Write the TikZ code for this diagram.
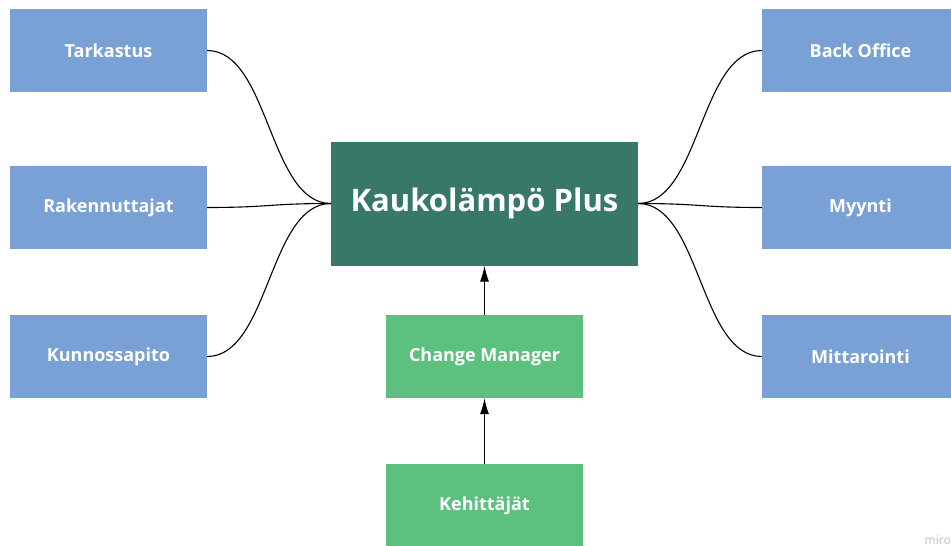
\documentclass[tikz,border=0pt]{standalone}
\usepackage{fontspec}
\setmainfont{Open Sans}
\usetikzlibrary{arrows.meta}
\definecolor{bluebox}{HTML}{7AA1D6}
\definecolor{darkgreen}{HTML}{387868}
\definecolor{lightgreen}{HTML}{5CC17E}
\definecolor{wm}{HTML}{C0C0C0}
\tikzset{
  box/.style={minimum width=197pt, minimum height=83pt, inner sep=0pt, text=white, font=\fontsize{18pt}{21pt}\selectfont\bfseries},
  bluenode/.style={box, fill=bluebox},
  greennode/.style={box, fill=lightgreen},
  mainnode/.style={minimum width=307pt, minimum height=124pt, inner sep=0pt, fill=darkgreen, text=white, font=\fontsize{31pt}{36pt}\selectfont\bfseries},
  link/.style={draw=black, line width=1.1pt},
  arr/.style={draw=black, line width=1.1pt, -{Latex[length=16pt,width=9pt]}}
}
\begin{document}
\begin{tikzpicture}[x=1pt,y=-1pt]
\useasboundingbox (0,0) rectangle (951,546);
\clip (0,0) rectangle (951,546);
\fill[white] (0,0) rectangle (951,546);
\node[bluenode] (tark) at (108.5,50.5) {Tarkastus};
\node[bluenode] (rak) at (108.5,207.5) {Rakennuttajat};
\node[bluenode] (kun) at (108.5,356.5) {Kunnossapito};
\node[bluenode] (back) at (860.5,50.5) {Back Office};
\node[bluenode] (myy) at (860.5,207.5) {Myynti};
\node[bluenode] (mit) at (860.5,356.5) {Mittarointi};
\node[mainnode] (main) at (484.5,203.5) {Kaukolämpö Plus};
\node[greennode] (cm) at (484.5,356.5) {Change Manager};
\node[greennode] (keh) at (484.5,505.5) {Kehittäjät};
\node[text=wm, font=\fontsize{12pt}{13pt}\selectfont, anchor=south east, inner sep=0pt] (miro) at (951,545) {miro};
\draw[link] (tark.east) .. controls +(62,0) and +(-62,0) .. (main.west);
\draw[link] (rak.east) .. controls +(62,0) and +(-62,0) .. (main.west);
\draw[link] (kun.east) .. controls +(62,0) and +(-62,0) .. (main.west);
\draw[link] (main.east) .. controls +(62,0) and +(-62,0) .. (back.west);
\draw[link] (main.east) .. controls +(62,0) and +(-62,0) .. (myy.west);
\draw[link] (main.east) .. controls +(62,0) and +(-62,0) .. (mit.west);
\draw[arr] (cm.north) -- (main.south);
\draw[arr] (keh.north) -- (cm.south);
\end{tikzpicture}
\end{document}
